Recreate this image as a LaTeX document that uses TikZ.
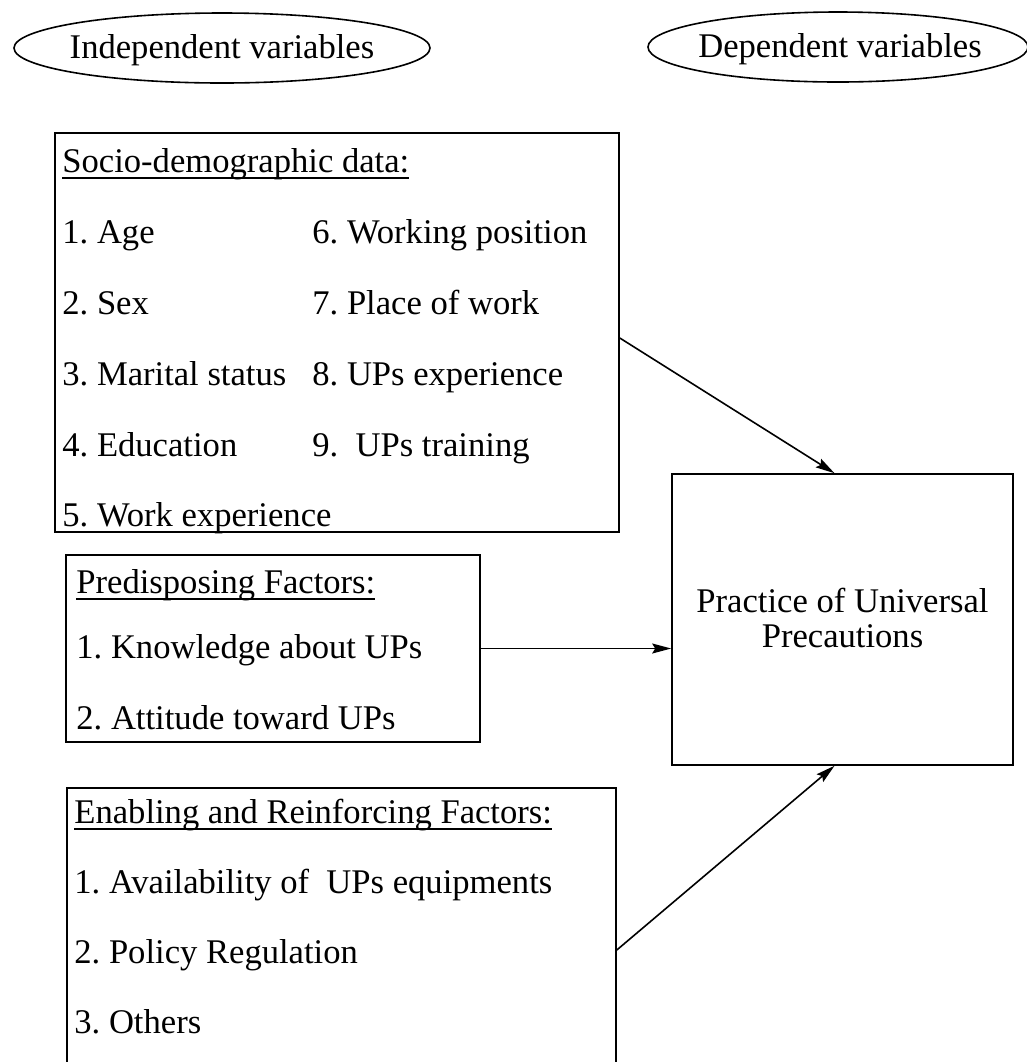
\documentclass[tikz,border=0pt]{standalone}
\usepackage{fontspec}
\setmainfont{Liberation Serif}
\usetikzlibrary{arrows.meta}
\newcommand{\headul}[1]{\setbox0\hbox{#1}\rlap{\rule[-3.3pt]{\wd0}{0.7pt}}\box0}

\begin{document}
\begin{tikzpicture}[x=0.5pt,y=-0.5pt,
  every node/.style={font=\fontsize{17.3pt}{21pt}\selectfont\frenchspacing, inner sep=0pt},
  box/.style={draw, line width=0.8pt, rectangle},
  item/.style={anchor=base west},
  oval/.style={draw, line width=0.8pt},
  arrowline/.style={draw, line width=0.8pt, -{Stealth[length=9.5pt,width=5pt,inset=1.5pt]}}]
\path[use as bounding box, clip] (0,0) rectangle (1027,1062);

% the two headings
\node (indep) at (222,50) {Independent variables};
\node (dep) at (840,49) {Dependent variables};
\draw[oval] (222,48) ellipse [x radius=104pt, y radius=17.5pt];
\draw[oval] (838,47) ellipse [x radius=95pt, y radius=17.5pt];

% boxes
\node[box, minimum width=282pt, minimum height=199.5pt] (socio) at (337,332.5) {};
\node[box, minimum width=207pt, minimum height=93.5pt] (predis) at (273,648.5) {};
\node[box, minimum width=274.5pt, minimum height=162pt] (enable) at (341.5,950) {};
\node[box, minimum width=170.5pt, minimum height=145.5pt] (practice) at (842.5,619.5) {};

% socio-demographic data
\node[item] (sochead) at (62,172) {\headul{Socio-demographic data:}};
\node[item] (age) at (62,243) {1. Age};
\node[item] (sex) at (62,314) {2. Sex};
\node[item] (marital) at (62,385) {3. Marital status};
\node[item] (edu) at (62,456) {4. Education};
\node[item] (workexp) at (62,526) {5. Work experience};
\node[item] (position) at (312,243) {6. Working position};
\node[item] (place) at (312,314) {7. Place of work};
\node[item] (upexp) at (312,385) {8. UPs experience};
\node[item] (uptrain) at (312,456) {9.\ \ UPs training};

% predisposing factors
\node[item] (prehead) at (76,593) {\headul{Predisposing Factors:}};
\node[item] (knowledge) at (76,658) {1. Knowledge about UPs};
\node[item] (attitude) at (76,729) {2. Attitude toward UPs};

% enabling and reinforcing factors
\node[item] (enahead) at (74,823) {\headul{Enabling and Reinforcing Factors:}};
\node[item] (avail) at (74,893) {1. Availability of\ \ UPs equipments};
\node[item] (policy) at (74,963) {2. Policy Regulation};
\node[item] (others) at (74,1033) {3. Others};

% outcome
\node[align=center, font=\fontsize{17.3pt}{17.5pt}\selectfont\frenchspacing] (outcome) at (842.5,618) {Practice of Universal\\Precautions};

\path[arrowline] ([yshift=-2.75pt]socio.east) -- ([xshift=-4pt]practice.north);
\path[arrowline] (predis.east) -- (predis.east -| practice.west);
\path[arrowline] (enable.east) -- ([xshift=-4pt]practice.south);
\end{tikzpicture}
\end{document}
